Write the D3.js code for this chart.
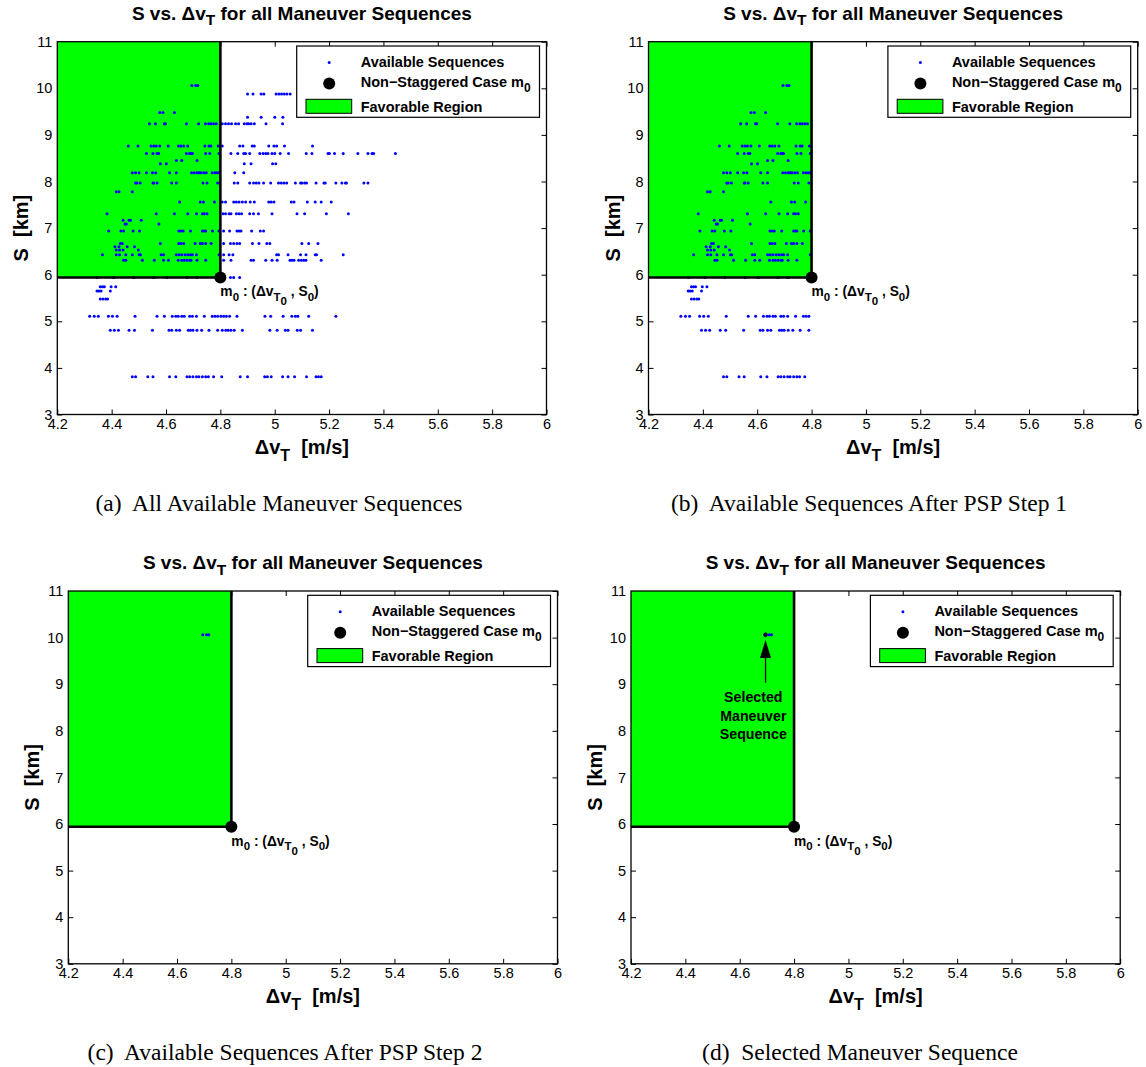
<!DOCTYPE html>
<html lang="en">
<head>
<meta charset="UTF-8">
<title>S vs. dvT for all Maneuver Sequences</title>
<script src="https://d3js.org/d3.v7.min.js"></script>
<style>
  body { margin: 0; background: #fff; }
  svg { display: block; }
</style>
</head>
<body>
<svg width="1146" height="1067"></svg>
<script>
// axis ticks
const xTicks = [4.2, 4.4, 4.6, 4.8, 5.0, 5.2, 5.4, 5.6, 5.8, 6.0];
const yTicks = [3, 4, 5, 6, 7, 8, 9, 10, 11];

// non-staggered case m0
const dv0 = 4.80, s0 = 5.94;

// available sequences, read row by row (each S level with its delta-v values)
const rowS = [10.06, 9.88, 9.48, 9.38, 9.24, 8.76, 8.60, 8.45, 8.38, 8.19, 7.97, 7.78, 7.56, 7.31,
  7.17, 7.09, 6.94, 6.67, 6.60, 6.53, 6.43, 6.31, 5.94, 5.74, 5.65, 5.48, 5.11, 4.81, 3.81];
const rowDv = [
  [4.695, 4.709, 4.717],
  [4.90, 4.92, 4.95, 4.96, 5.005, 5.015, 5.025, 5.035, 5.045, 5.057],
  [4.577, 4.589, 4.631],
  [4.90, 4.95, 5.00, 5.03],
  [4.539, 4.561, 4.594, 4.598, 4.675, 4.720, 4.745, 4.757, 4.765, 4.775, 4.785, 4.807, 4.819, 4.830, 4.841, 4.856, 4.867, 4.888, 4.898, 4.904, 4.913, 4.925, 4.968, 5.029],
  [4.461, 4.497, 4.545, 4.555, 4.564, 4.577, 4.608, 4.646, 4.655, 4.665, 4.680, 4.743, 4.758, 4.765, 4.792, 4.807, 4.871, 4.883, 4.917, 4.925, 4.978, 4.997, 5.007, 5.036, 5.139],
  [4.528, 4.552, 4.567, 4.573, 4.675, 4.687, 4.692, 4.697, 4.746, 4.761, 4.795, 4.839, 4.864, 4.886, 4.893, 4.908, 4.945, 4.957, 4.967, 4.975, 4.990, 5.000, 5.020, 5.051, 5.116, 5.137, 5.196, 5.201, 5.220, 5.252, 5.306, 5.343, 5.358, 5.364, 5.444],
  [4.638, 4.658, 4.714],
  [4.579, 4.601, 4.888, 4.913, 4.992, 5.004],
  [4.476, 4.488, 4.501, 4.528, 4.550, 4.562, 4.613, 4.638, 4.694, 4.704, 4.714, 4.719, 4.724, 4.729, 4.739, 4.748, 4.770, 4.780, 4.788, 4.795, 4.853, 4.886],
  [4.488, 4.493, 4.505, 4.552, 4.555, 4.567, 4.621, 4.638, 4.736, 4.751, 4.790, 4.851, 4.864, 4.908, 4.922, 4.932, 4.942, 4.959, 4.985, 5.014, 5.024, 5.034, 5.044, 5.076, 5.095, 5.100, 5.110, 5.117, 5.152, 5.181, 5.186, 5.225, 5.247, 5.260, 5.264, 5.328, 5.343],
  [4.417, 4.427, 4.476],
  [4.650, 4.726, 4.738, 4.778, 4.807, 4.819, 4.849, 4.859, 4.869, 4.881, 4.893, 4.910, 4.925, 4.978, 4.987, 4.997, 5.061, 5.071, 5.120, 5.149, 5.171, 5.208],
  [4.383, 4.564, 4.631, 4.680, 4.712, 4.734, 4.741, 4.751, 4.810, 4.819, 4.832, 4.839, 4.859, 4.869, 4.878, 4.908, 4.922, 4.940, 4.990, 5.082, 5.110, 5.190, 5.271],
  [4.442, 4.464, 4.469, 4.509],
  [4.449, 4.454, 4.574],
  [4.389, 4.434, 4.444, 4.479, 4.503, 4.647, 4.655, 4.663, 4.690, 4.734, 4.741, 4.746, 4.771, 4.795, 4.812, 4.834, 4.861, 4.869, 4.876, 4.915, 4.947, 4.959],
  [4.432, 4.439, 4.579, 4.647, 4.655, 4.665, 4.707, 4.726, 4.734, 4.746, 4.766, 4.812, 4.837, 4.849, 4.861, 4.871, 4.918, 4.942, 4.971, 4.982, 5.100, 5.125, 5.159],
  [4.412, 4.427, 4.457, 4.484],
  [4.417, 4.429, 4.442, 4.498],
  [4.366, 4.417, 4.429, 4.452, 4.476, 4.501, 4.506, 4.582, 4.591, 4.638, 4.648, 4.658, 4.670, 4.680, 4.690, 4.697, 4.712, 4.795, 4.812, 4.832, 4.846, 5.007, 5.014, 5.049, 5.095, 5.115, 5.149, 5.154, 5.252],
  [4.444, 4.452, 4.513, 4.557, 4.591, 4.609, 4.645, 4.658, 4.667, 4.677, 4.687, 4.692, 4.714, 4.746, 4.812, 4.839, 4.913, 4.922, 4.967, 4.990, 5.009, 5.056, 5.063, 5.071, 5.088, 5.098, 5.107, 5.115, 5.171],
  [4.346, 4.407, 4.481, 4.555, 4.604, 4.677, 4.714, 4.837, 4.849, 4.871],
  [4.358, 4.366, 4.373, 4.398, 4.415],
  [4.346, 4.353, 4.361, 4.395],
  [4.358, 4.368, 4.378, 4.385],
  [4.319, 4.336, 4.351, 4.388, 4.403, 4.420, 4.486, 4.567, 4.594, 4.623, 4.636, 4.645, 4.658, 4.667, 4.687, 4.697, 4.712, 4.741, 4.770, 4.780, 4.790, 4.802, 4.812, 4.822, 4.834, 4.861, 4.964, 4.985, 5.031, 5.063, 5.076, 5.085, 5.125, 5.225],
  [4.395, 4.410, 4.425, 4.464, 4.484, 4.550, 4.611, 4.621, 4.638, 4.650, 4.682, 4.690, 4.699, 4.714, 4.731, 4.758, 4.790, 4.807, 4.820, 4.829, 4.839, 4.851, 4.881, 4.982, 5.009, 5.039, 5.049, 5.083, 5.095, 5.139],
  [4.476, 4.488, 4.533, 4.552, 4.613, 4.636, 4.677, 4.687, 4.699, 4.712, 4.721, 4.734, 4.746, 4.756, 4.775, 4.805, 4.873, 4.900, 4.963, 4.973, 4.987, 5.029, 5.049, 5.073, 5.117, 5.152, 5.161, 5.171]
];

// after PSP step 2 only these remain
const step2Dv = [4.695, 4.709, 4.717];
const step2S = 10.06;
const selectedIndex = 0;

// arrow in (d)
const arrowDv = 4.695;
const arrowS = [9.03, 9.95];

const captions = [
  "(a)\u00a0 All Available Maneuver Sequences",
  "(b)\u00a0 Available Sequences After PSP Step 1",
  "(c)\u00a0 Available Sequences After PSP Step 2",
  "(d)\u00a0 Selected Maneuver Sequence"
];

const allPoints = [];
rowS.forEach((s, i) => rowDv[i].forEach(dv => allPoints.push([dv, s])));
const step1Points = allPoints.filter(d => d[0] <= dv0);
const step2Points = step2Dv.map(dv => [dv, step2S]);

const svg = d3.select("svg");
const plotW = 489.2, plotH = 372.8;
const SANS = "'Liberation Sans', Arial, Helvetica, sans-serif";
const SERIF = "'Liberation Serif', 'Times New Roman', serif";
const GREEN = "#00ff00", BLUE = "#0000ff";

const panels = [
  { left: 57.3, top: 41.7, points: allPoints, capX: 279, capY: 511 },
  { left: 648.5, top: 41.7, points: step1Points, capX: 869, capY: 511 },
  { left: 68.3, top: 591, points: step2Points, capX: 285, capY: 1060 },
  { left: 631, top: 591, points: step2Points, capX: 860, capY: 1060, selected: true }
];

// text with subscripts: parts = [[string, level], ...]
function rich(textSel, parts, base, sub, shift) {
  let level = 0;
  parts.forEach(([str, lv]) => {
    textSel.append("tspan")
      .attr("dy", (lv - level) * shift)
      .attr("font-size", lv ? sub : base)
      .text(str);
    level = lv;
  });
}

const fmt = d => String(+d.toFixed(1));

panels.forEach((p, idx) => {
  const x = d3.scaleLinear().domain([4.2, 6]).range([p.left, p.left + plotW]);
  const y = d3.scaleLinear().domain([3, 11]).range([p.top + plotH, p.top]);
  const g = svg.append("g").attr("font-family", SANS);

  // axes (ticks inward, box on)
  const styleAxis = a => {
    a.attr("font-size", 14.5).attr("font-family", SANS);
    a.selectAll("text").attr("fill", "#000");
    a.selectAll("line").attr("stroke", "#000");
    a.select(".domain").remove();
  };
  g.append("g").attr("transform", `translate(0,${y(3)})`)
    .call(d3.axisBottom(x).tickValues(xTicks).tickSize(-5).tickPadding(4).tickFormat(fmt))
    .call(styleAxis);
  g.append("g").attr("transform", `translate(0,${y(11)})`)
    .call(d3.axisTop(x).tickValues(xTicks).tickSize(-5).tickFormat(""))
    .call(styleAxis);
  g.append("g").attr("transform", `translate(${x(4.2)},0)`)
    .call(d3.axisLeft(y).tickValues(yTicks).tickSize(-5).tickPadding(5).tickFormat(fmt))
    .call(styleAxis);
  g.append("g").attr("transform", `translate(${x(6)},0)`)
    .call(d3.axisRight(y).tickValues(yTicks).tickSize(-5).tickFormat(""))
    .call(styleAxis);

  // favorable region
  g.append("rect")
    .attr("x", x(4.2)).attr("y", y(11))
    .attr("width", x(dv0) - x(4.2)).attr("height", y(s0) - y(11))
    .attr("fill", GREEN);

  // sequences
  g.selectAll("circle.seq").data(p.points).join("circle")
    .attr("class", "seq")
    .attr("cx", d => x(d[0])).attr("cy", d => y(d[1]))
    .attr("r", 1.5).attr("fill", BLUE);

  if (p.selected) {
    const d = step2Points[selectedIndex];
    g.append("circle").attr("cx", x(d[0])).attr("cy", y(d[1]))
      .attr("r", 2).attr("fill", "#000060").attr("stroke", "#000").attr("stroke-width", 0.6);
  }

  // box
  g.append("rect").attr("x", x(4.2)).attr("y", y(11))
    .attr("width", plotW).attr("height", plotH)
    .attr("fill", "none").attr("stroke", "#000").attr("stroke-width", 1.3);

  // region boundary
  g.append("path")
    .attr("d", d3.line()([[x(4.2), y(s0)], [x(dv0), y(s0)], [x(dv0), y(11)]]))
    .attr("fill", "none").attr("stroke", "#000").attr("stroke-width", 2.6);

  // m0
  g.append("circle").attr("cx", x(dv0)).attr("cy", y(s0)).attr("r", 6).attr("fill", "#000");
  const ml = g.append("text").attr("x", x(dv0)).attr("y", y(s0) + 19)
    .attr("font-weight", "bold").attr("fill", "#000");
  rich(ml, [["m", 0], ["0", 1], [" : (\u0394v", 0], ["T", 1], ["0", 2], [" , S", 0], ["0", 1], [")", 0]], 13.8, 11.5, 4.5);

  // title
  const t = g.append("text").attr("x", x(5.1)).attr("y", y(11) - 22)
    .attr("text-anchor", "middle").attr("font-weight", "bold").attr("fill", "#000");
  rich(t, [["S vs. \u0394v", 0], ["T", 1], [" for all Maneuver Sequences", 0]], 19, 15.5, 5.5);

  // x label
  const xl = g.append("text").attr("x", x(5.1)).attr("y", y(3) + 39)
    .attr("text-anchor", "middle").attr("font-weight", "bold").attr("fill", "#000");
  rich(xl, [["\u0394v", 0], ["T", 1], ["\u00a0 [m/s]", 0]], 20, 16, 7);

  // y label
  g.append("text")
    .attr("transform", `translate(${x(4.2) - 29},${y(7)}) rotate(-90)`)
    .attr("text-anchor", "middle").attr("font-weight", "bold").attr("font-size", 20)
    .attr("fill", "#000").text("S\u00a0 [km]");

  // legend
  const lg = g.append("g").attr("transform", `translate(${x(4.2) + 239.4},${y(11) + 4.3})`);
  lg.append("rect").attr("width", 242.8).attr("height", 71.3)
    .attr("fill", "#fff").attr("stroke", "#000").attr("stroke-width", 1.2);
  lg.append("circle").attr("cx", 32.5).attr("cy", 16.5).attr("r", 1.5).attr("fill", BLUE);
  lg.append("circle").attr("cx", 32.5).attr("cy", 37.5).attr("r", 6).attr("fill", "#000");
  lg.append("rect").attr("x", 9.3).attr("y", 53.3).attr("width", 45.7).attr("height", 14)
    .attr("fill", GREEN).attr("stroke", "#000").attr("stroke-width", 1);
  const lt = lg.append("g").attr("font-weight", "bold").attr("font-size", 14.5).attr("fill", "#000");
  lt.append("text").attr("x", 64).attr("y", 21).text("Available Sequences");
  rich(lt.append("text").attr("x", 64).attr("y", 41),
    [["Non\u2212Staggered Case m", 0], ["0", 1]], 14.5, 12, 4.5);
  lt.append("text").attr("x", 64).attr("y", 65.5).text("Favorable Region");

  // selected annotation
  if (p.selected) {
    const ax = x(arrowDv), y0 = y(arrowS[0]), y1 = y(arrowS[1]);
    g.append("line").attr("x1", ax).attr("x2", ax).attr("y1", y0).attr("y2", y1 + 16)
      .attr("stroke", "#000").attr("stroke-width", 1.3);
    g.append("path")
      .attr("d", d3.line()([[ax, y1], [ax - 5.5, y1 + 18], [ax + 5.5, y1 + 18]]) + "Z")
      .attr("fill", "#000");
    ["Selected", "Maneuver", "Sequence"].forEach((s, i) => {
      g.append("text").attr("x", x(4.65)).attr("y", y0 + 19.5 + i * 18.5)
        .attr("text-anchor", "middle").attr("font-weight", "bold").attr("font-size", 14.2)
        .attr("fill", "#000").text(s);
    });
  }

  // caption
  svg.append("text").attr("x", p.capX).attr("y", p.capY)
    .attr("text-anchor", "middle").attr("font-family", SERIF).attr("font-size", 23.5)
    .attr("fill", "#000").text(captions[idx]);
});
</script>
</body>
</html>
